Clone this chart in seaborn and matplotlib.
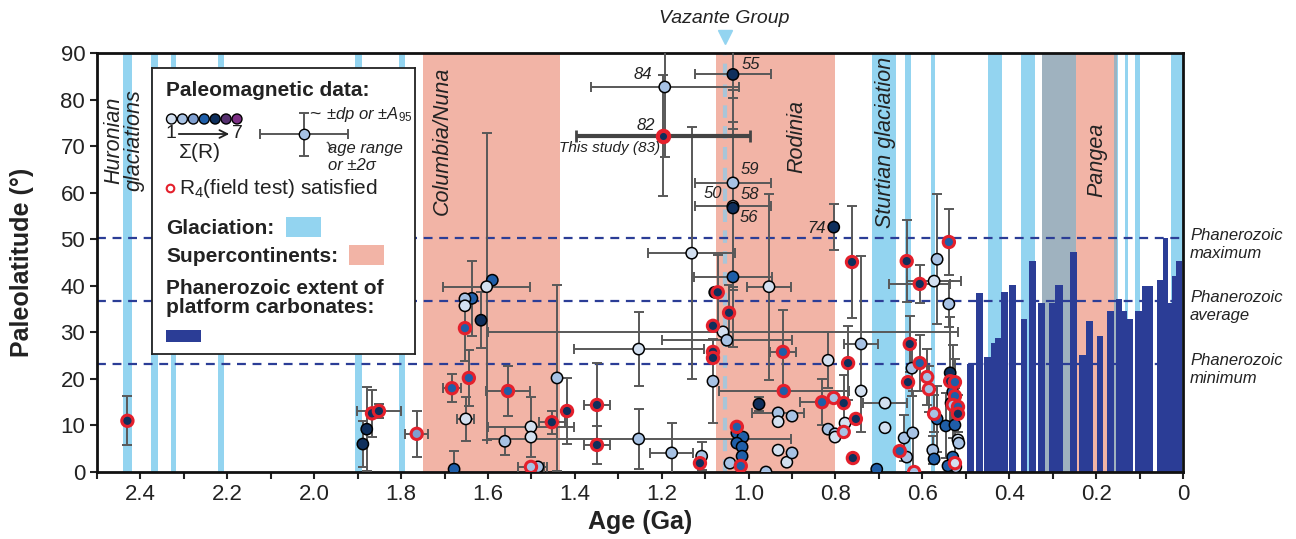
import numpy as np
import pandas as pd
import seaborn as sns
import matplotlib.pyplot as plt
from matplotlib.patches import Rectangle

sns.set_style("ticks")
plt.rcParams['font.family'] = ['Liberation Sans', 'DejaVu Sans']
plt.rcParams['mathtext.fontset'] = 'custom'
plt.rcParams['mathtext.rm'] = 'Liberation Sans'
plt.rcParams['mathtext.it'] = 'Liberation Sans:italic'

# ---------------- data (ages in Ga, latitudes in degrees) ----------------
glaciations = [(2.44, 2.42), (2.375, 2.36), (2.33, 2.317), (2.222, 2.208),
               (1.905, 1.89), (1.805, 1.79), (0.717, 0.66), (0.64, 0.627),
               (0.58, 0.57), (0.449, 0.417), (0.373, 0.341), (0.325, 0.247),
               (0.158, 0.150), (0.134, 0.127), (0.111, 0.099), (0.028, 0.0)]
supercontinents = [(1.75, 1.435), (1.076, 0.80), (0.325, 0.152)]

# Phanerozoic platform carbonate extent
carb_old = [0.497, 0.477, 0.458, 0.442, 0.433, 0.419, 0.401, 0.373, 0.355, 0.334,
            0.309, 0.295, 0.260, 0.239, 0.223, 0.198, 0.175, 0.154, 0.140, 0.129,
            0.111, 0.094, 0.060, 0.046, 0.035, 0.025, 0.016]
carb_young = [0.481, 0.460, 0.442, 0.433, 0.419, 0.403, 0.385, 0.359, 0.338, 0.318,
              0.295, 0.276, 0.244, 0.223, 0.207, 0.184, 0.159, 0.140, 0.129, 0.115,
              0.094, 0.069, 0.046, 0.035, 0.025, 0.016, 0.002]
carb_lat = [23.2, 38.4, 24.7, 27.7, 28.8, 38.6, 40.1, 32.8, 45.3, 36.3,
            36.3, 40.1, 47.2, 25.1, 32.4, 29.2, 34.6, 37.1, 34.6, 32.8,
            34.6, 40.0, 41.2, 50.2, 36.3, 42.1, 45.3]
phan_lat = [50.2, 36.7, 23.3]
phan_names = ['maximum', 'average', 'minimum']
vazante_age = 1.055

# paleomagnetic poles: (age, paleolat, age err, lat err, sum(R), R4 field test)
paleo_early = [
    (2.43, 11.0, 0, 5.3, 5, 1), (1.888, 6.0, 0, 5.0, 5, 0), (1.879, 9.2, 0, 9.0, 5, 0),
    (1.867, 12.6, 0, 5.0, 5, 1), (1.851, 13.1, 0.05, 1.5, 5, 1), (1.764, 8.2, 0.027, 5.0, 3, 1),
]
paleo_columbia = [
    (1.590, 41.2, 0, 0, 4, 0), (1.603, 39.8, 0.10, 33, 1, 0), (1.637, 37.3, 0, 8, 4, 0),
    (1.653, 37.2, 0, 0, 2, 0), (1.653, 35.7, 0, 0, 1, 0), (1.616, 32.6, 0, 6, 5, 0),
    (1.653, 30.9, 0, 7, 4, 1), (1.644, 20.2, 0, 6, 4, 1), (1.683, 18.0, 0.02, 3, 4, 1),
    (1.651, 11.4, 0.02, 4.7, 1, 0), (1.678, 0.6, 0, 4, 4, 0), (1.554, 17.4, 0.05, 5.3, 4, 1),
    (1.561, 6.6, 0, 3, 2, 0), (1.501, 9.7, 0.10, 6.5, 1, 0), (1.501, 7.5, 0, 0, 1, 0),
    (1.501, 1.1, 0.03, 0, 2, 1), (1.485, 1.1, 0.02, 0, 2, 0), (1.453, 10.7, 0.03, 2.5, 5, 1),
    (1.441, 20.2, 0, 20, 2, 0), (1.418, 13.1, 0, 7, 5, 1), (1.349, 14.4, 0.03, 9, 5, 1),
    (1.349, 5.8, 0.03, 4, 5, 1), (1.253, 26.4, 0.15, 8, 1, 0), (1.253, 7.1, 0.35, 6.5, 2, 0),
    (1.177, 4.1, 0.05, 6.5, 2, 0), (1.131, 47.0, 0.10, 27, 1, 0), (1.193, 82.7, 0.17, 15, 2, 0),
]
paleo_rodinia = [
    (1.036, 85.4, 0.088, 5, 5, 0), (1.036, 62.1, 0.088, 20, 2, 0), (1.036, 57.1, 0.088, 18, 2, 0),
    (1.036, 56.7, 0, 17, 5, 0), (1.036, 41.9, 0.09, 15, 4, 0), (1.071, 38.6, 0, 8, 5, 1),
    (1.078, 38.6, 0, 0, 5, 0), (0.953, 39.8, 0.05, 20, 1, 0), (1.045, 34.2, 0, 6, 5, 1),
    (1.082, 31.4, 0, 0, 5, 1), (1.059, 30.1, 0.54, 0, 1, 0), (1.050, 28.3, 0.15, 0, 2, 0),
    (1.082, 25.8, 0, 0, 5, 1), (1.082, 24.5, 0, 0, 5, 1), (1.082, 19.5, 0, 9, 2, 0),
    (0.921, 25.8, 0.03, 9, 4, 1), (0.817, 24.0, 0, 6, 1, 0), (0.762, 45.1, 0, 12, 5, 1),
    (0.804, 52.6, 0, 5, 5, 0), (0.771, 23.4, 0, 8, 5, 1), (0.741, 27.5, 0.04, 19, 2, 0),
    (0.741, 17.4, 0, 0, 1, 0), (0.919, 17.4, 0.15, 0, 4, 1), (0.976, 14.6, 0, 1.5, 5, 0),
    (0.831, 15.0, 0.05, 5, 4, 1), (0.804, 15.9, 0, 0, 2, 1), (0.781, 14.8, 0, 6, 5, 1),
    (0.753, 11.4, 0, 0, 5, 1), (0.932, 12.7, 0.06, 0, 2, 0), (0.932, 10.8, 0, 0, 1, 0),
    (0.900, 12.0, 0, 0, 2, 0), (0.817, 9.2, 0, 0, 2, 0), (0.801, 8.2, 0, 0, 2, 0),
    (0.801, 7.5, 0, 0, 1, 0), (0.778, 10.5, 0, 0, 1, 0), (0.781, 8.6, 0, 0, 2, 1),
    (1.027, 9.7, 0, 0, 4, 1), (1.027, 8.4, 0, 0, 4, 0), (1.013, 7.5, 0, 0, 4, 0),
    (1.027, 6.2, 0, 0, 4, 0), (1.015, 5.4, 0, 0, 4, 0), (1.015, 3.4, 0, 0, 4, 0),
    (1.018, 1.3, 0, 0, 4, 1), (1.043, 1.9, 0, 0, 2, 0), (1.108, 3.4, 0, 3, 2, 0),
    (1.112, 1.9, 0, 0, 5, 1), (0.932, 4.7, 0, 0, 1, 0), (0.912, 2.1, 0, 0, 1, 0),
    (0.900, 4.1, 0, 0, 2, 0), (0.960, 0.0, 0, 0, 2, 0), (0.760, 3.0, 0, 0, 5, 1),
]
paleo_late = [
    (0.686, 14.8, 0.05, 0, 1, 0), (0.686, 9.5, 0, 0, 1, 0), (0.705, 0.6, 0, 0, 4, 0),
    (0.652, 4.5, 0, 0, 4, 1), (0.642, 7.3, 0, 5, 2, 0), (0.622, 8.4, 0, 9, 2, 0),
    (0.636, 3.2, 0, 0, 2, 0), (0.619, 0.0, 0, 0, 2, 1), (0.636, 45.3, 0, 8.8, 5, 1),
    (0.566, 45.7, 0, 14, 2, 0), (0.606, 40.4, 0.07, 4, 5, 1), (0.573, 41.0, 0.063, 0, 1, 0),
    (0.629, 27.5, 0, 6, 5, 1), (0.606, 23.4, 0, 6, 4, 1), (0.624, 22.3, 0, 6, 2, 0),
    (0.633, 19.3, 0, 0, 5, 1), (0.589, 20.4, 0, 6, 2, 1), (0.585, 17.8, 0, 5, 2, 1),
    (0.573, 12.5, 0, 4, 2, 1), (0.566, 11.4, 0, 7, 4, 0), (0.539, 49.4, 0, 7, 4, 1),
    (0.539, 36.1, 0, 5, 2, 0), (0.536, 21.3, 0, 12, 5, 0), (0.536, 19.5, 0, 0, 5, 1),
    (0.525, 19.3, 0, 5, 4, 1), (0.530, 17.2, 0, 10, 4, 0), (0.525, 16.3, 0, 0, 4, 1),
    (0.534, 14.8, 0, 5, 4, 0), (0.530, 14.4, 0, 0, 2, 1), (0.518, 14.0, 0, 0, 4, 1),
    (0.518, 12.5, 0, 4, 5, 1), (0.546, 9.9, 0, 7, 4, 0), (0.525, 10.1, 0, 8, 4, 0),
    (0.518, 6.9, 0, 0, 1, 0), (0.516, 6.2, 0, 0, 2, 0), (0.576, 4.7, 0, 3, 2, 0),
    (0.573, 2.8, 0, 0, 4, 0), (0.530, 3.2, 0, 0, 4, 0), (0.525, 1.9, 0, 0, 1, 1),
    (0.523, 1.1, 0, 0, 2, 0), (0.541, 1.3, 0, 0, 4, 0),
]
this_study = (1.197, 72.2, 0.2, 13)

pole_labels = ['84', '55', '82', '59', '50', '58', '56', '74']
pole_label_age = [1.223, 1.015, 1.216, 1.018, 1.060, 1.018, 1.020, 0.822]
pole_label_lat = [85.3, 87.6, 74.5, 64.9, 59.9, 59.5, 54.6, 52.4]

cols = ['age', 'lat', 'dage', 'dlat', 'level', 'r4']
df = pd.DataFrame(paleo_early + paleo_columbia + paleo_rodinia + paleo_late, columns=cols)

# ---------------- colours ----------------
c_glac = '#93d4f0'
c_super = '#f2b4a6'
c_both = '#9fb2bf'
c_navy = '#2b3d96'
c_err = '#585858'
c_red = '#e4202c'
pal = {1: '#d3e0f0', 2: '#a7c2e4', 3: '#7f9fd0', 4: '#1f5ea8', 5: '#0f2f5c', 6: '#56306f', 7: '#7c2f84'}

W, H = 1296, 539
fig = plt.figure(figsize=(W / 100, H / 100), dpi=100)
ax = fig.add_axes([97 / W, 1 - 472 / H, (1183 - 97) / W, (472 - 53) / H])

# background bands
for a, b in glaciations:
    ax.axvspan(a, b, color=c_glac, lw=0, zorder=0)
for a, b in supercontinents:
    ax.axvspan(a, b, color=c_super, lw=0, zorder=0)
for ga, gb in glaciations:
    for sa, sb in supercontinents:
        lo, hi = max(gb, sb), min(ga, sa)
        if hi > lo:
            ax.axvspan(hi, lo, color=c_both, lw=0, zorder=0.5)

# platform carbonates
old = np.array(carb_old)
young = np.array(carb_young)
ax.bar((old + young) / 2, carb_lat, width=old - young, color=c_navy, lw=0, zorder=1)

for y in phan_lat:
    ax.axhline(y, color=c_navy, ls=(0, (4, 3)), lw=1.6, zorder=2)
ax.axvline(vazante_age, color='#a9c5d8', ls=(0, (3, 2)), lw=3, zorder=1.5)

# error bars
xe = df[df.dage > 0]
ax.errorbar(xe.age, xe.lat, xerr=xe.dage, fmt='none', ecolor=c_err, elinewidth=1.4,
            capsize=3.5, capthick=1.4, zorder=3)
ye = df[df.dlat > 0]
ax.errorbar(ye.age, ye.lat, yerr=ye.dlat, fmt='none', ecolor=c_err, elinewidth=1.4,
            capsize=3.5, capthick=1.4, zorder=3)
ax.errorbar([this_study[0]], [this_study[1]], yerr=[this_study[3]], fmt='none', ecolor=c_err,
            elinewidth=1.4, capsize=3.5, capthick=1.4, zorder=3)
ax.errorbar([this_study[0]], [this_study[1]], xerr=[this_study[2]], fmt='none', ecolor='#444444',
            elinewidth=3, capsize=4, capthick=2, zorder=3)

# poles
sns.scatterplot(data=df[df.r4 == 0], x='age', y='lat', hue='level', palette=pal, s=66,
                edgecolor='black', linewidth=1.1, legend=False, ax=ax, zorder=4)
sns.scatterplot(data=df[df.r4 == 1], x='age', y='lat', hue='level', palette=pal, s=66,
                edgecolor=c_red, linewidth=2.2, legend=False, ax=ax, zorder=4)
ax.scatter([this_study[0]], [this_study[1]], s=66, color=pal[5], edgecolor=c_red, linewidth=3, zorder=4.5)

# text annotations
it = dict(style='italic', color='#222222')
for t, a, l in zip(pole_labels, pole_label_age, pole_label_lat):
    ha = 'right' if a > 1.036 or t == '74' else 'left'
    ax.text(a, l, t, ha=ha, va='center', fontsize=12, zorder=6, **it)
ax.text(1.204, 69.6, 'This study (83)', ha='right', va='center', fontsize=11, zorder=6, **it)
ax.text(2.438, 71.3, 'Huronian\nglaciations', rotation=90, ha='center', va='center',
        fontsize=15.5, linespacing=1.0, **it)
ax.text(1.704, 71.1, 'Columbia/Nuna', rotation=90, ha='center', va='center', fontsize=15.5, **it)
ax.text(0.889, 72.0, 'Rodinia', rotation=90, ha='center', va='center', fontsize=15.5, **it)
ax.text(0.686, 70.9, 'Sturtian glaciation', rotation=90, ha='center', va='center', fontsize=15.5, **it)
ax.text(0.198, 67.0, 'Pangea', rotation=90, ha='center', va='center', fontsize=15.5, **it)
ax.plot([vazante_age], [93.4], marker='v', ms=10, color=c_glac, clip_on=False, zorder=6)
ax.text(vazante_age, 97.5, 'Vazante Group', ha='center', va='center', fontsize=14, clip_on=False, **it)
for y, n in zip(phan_lat, phan_names):
    ax.text(1.0065, y + 2.3, 'Phanerozoic\n' + n, transform=ax.get_yaxis_transform(),
            ha='left', va='top', fontsize=12, linespacing=1.25, **it)

# axes
ax.set_xlim(2.5, 0)
ax.set_ylim(0, 90)
ax.set_xticks(np.round(np.arange(2.5, -0.01, -0.1), 1))
ax.set_xticklabels(['' if round(v * 10) % 2 else ('0' if v == 0 else f'{v:.1f}')
                    for v in np.round(np.arange(2.5, -0.01, -0.1), 1)])
ax.set_yticks(np.arange(0, 91, 10))
ax.tick_params(axis='both', direction='out', length=5, width=1.5, labelsize=16, colors='#222222')
for s in ax.spines.values():
    s.set_linewidth(2)
    s.set_color('#111111')
ax.set_xlabel('Age (Ga)', fontsize=18, fontweight='bold', color='#222222')
ax.set_ylabel('Paleolatitude (°)', fontsize=18, fontweight='bold', color='#222222')
ax.xaxis.set_label_coords(0.5, -0.09)
ax.yaxis.set_label_coords(-0.058, 0.5)

# legend box (drawn in picture pixel units)
lg = fig.add_axes([152 / W, 1 - 354 / H, 263 / W, 286 / H], zorder=10)
lg.set_xlim(152, 415)
lg.set_ylim(354, 68)
lg.set_xticks([])
lg.set_yticks([])
lg.set_facecolor('white')
for s in lg.spines.values():
    s.set_linewidth(1.3)
    s.set_color('#222222')
bold = dict(fontweight='bold', color='#222222', fontsize=15, va='center', ha='left')
lg.text(166, 90, 'Paleomagnetic data:', **bold)
lg.scatter(np.linspace(171.5, 237, 7), [119] * 7, s=52, c=[pal[k] for k in range(1, 8)],
           edgecolor='black', linewidth=1)
lg.text(171, 134, '1', ha='center', va='center', fontsize=14, color='#222222')
lg.text(237, 134, '7', ha='center', va='center', fontsize=14, color='#222222')
lg.annotate('', xy=(232, 134), xytext=(176, 134),
            arrowprops=dict(arrowstyle='->', lw=1.3, color='#222222', mutation_scale=14))
lg.text(200, 153, 'Σ(R)', ha='center', va='center', fontsize=15, color='#222222')
lg.errorbar([304], [134], xerr=[44], yerr=[21.5], fmt='o', ms=7.5, mfc=pal[2], mec='black',
            ecolor=c_err, elinewidth=1.4, capsize=3.5, capthick=1.4)
lg.text(309, 114, '~', ha='left', va='center', fontsize=14, color='#222222')
lg.text(326, 115, '±dp or ±A$_{95}$', ha='left', va='center', fontsize=12, **it)
lg.text(316, 146, '~', ha='left', va='center', fontsize=14, rotation=-60, color='#222222')
lg.text(328, 157, 'age range\nor ±2σ', ha='left', va='center', fontsize=12, linespacing=1.2, **it)
lg.scatter([170], [188], s=30, facecolor='white', edgecolor=c_red, linewidth=1.5)
lg.text(179, 188, 'R$_4$(field test) satisfied', ha='left', va='center', fontsize=15, color='#222222')
lg.text(166, 228, 'Glaciation:', **bold)
lg.add_patch(Rectangle((286, 217), 35, 20, color=c_glac, lw=0))
lg.text(166, 256, 'Supercontinents:', **bold)
lg.add_patch(Rectangle((349, 245), 35, 20, color=c_super, lw=0))
lg.text(166, 298, 'Phanerozoic extent of\nplatform carbonates:', linespacing=1.0, **bold)
lg.add_patch(Rectangle((166, 330), 35, 12, color=c_navy, lw=0))

fig.savefig('out.png', dpi=100)
